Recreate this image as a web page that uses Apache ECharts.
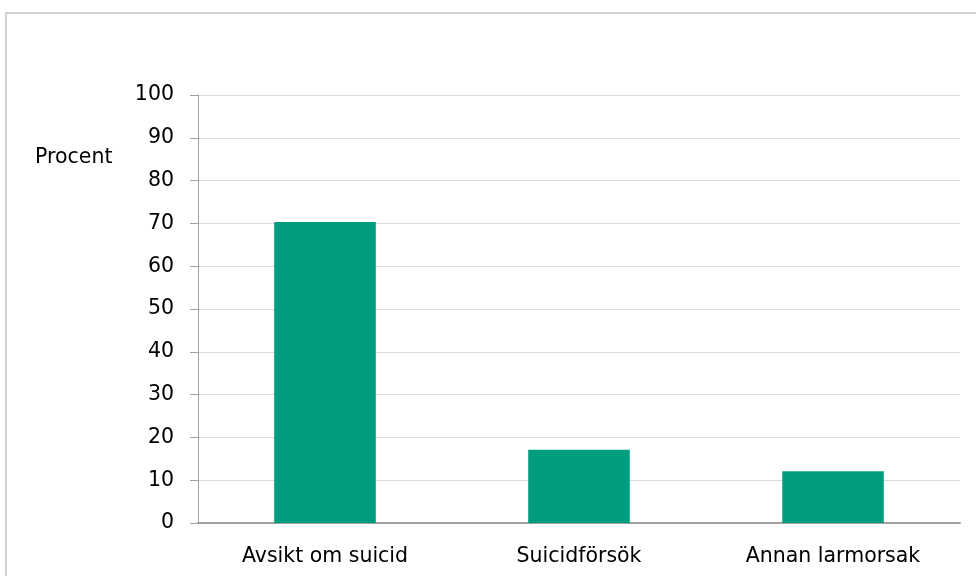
<!DOCTYPE html>
<html>
<head>
<meta charset="utf-8">
<script src="https://cdn.jsdelivr.net/npm/echarts@6/dist/echarts.min.js"></script>
<style>
  html, body { margin: 0; padding: 0; background: #fff; }
  #chart { width: 976px; height: 576px; }
</style>
</head>
<body>
<div id="chart"></div>
<script>
// Larmorsak, andel i procent
const categories = ['Avsikt om suicid', 'Suicidförsök', 'Annan larmorsak'];
const values = [70.3, 17.1, 12.1];
const yTicks = { min: 0, max: 100, interval: 10 };
const yTitle = 'Procent';

const FONT = 'DejaVu Sans';
const SIZE = 20.5;

const chart = echarts.init(document.getElementById('chart'), null, { renderer: 'canvas' });

chart.setOption({
  animation: false,
  backgroundColor: '#ffffff',
  textStyle: { fontFamily: FONT },
  grid: { left: 198, right: 16, top: 95, bottom: 53 },
  graphic: [
    {
      type: 'rect',
      shape: { x: 6, y: 13, width: 1000, height: 600 },
      style: { fill: 'none', stroke: '#d0d0d0', lineWidth: 2 },
      silent: true,
      z: -10
    },
    {
      type: 'text',
      left: 35,
      top: 147,
      style: { text: yTitle, fill: '#000', font: SIZE + 'px "' + FONT + '"' }
    }
  ],
  xAxis: {
    type: 'category',
    data: categories,
    axisLine: { show: true, lineStyle: { color: '#a0a0a0', width: 2 } },
    axisTick: { show: false },
    axisLabel: { color: '#000', fontSize: SIZE, fontFamily: FONT, margin: 23 },
    splitLine: { show: false }
  },
  yAxis: {
    type: 'value',
    min: yTicks.min,
    max: yTicks.max,
    interval: yTicks.interval,
    axisLine: { show: true, lineStyle: { color: '#a0a0a0', width: 1 } },
    axisTick: { show: true, length: 8, lineStyle: { color: '#a0a0a0' } },
    axisLabel: { color: '#000', fontSize: SIZE, fontFamily: FONT, margin: 24 },
    splitLine: { show: true, lineStyle: { color: '#dcdcdc', width: 1 } }
  },
  series: [
    {
      type: 'bar',
      data: values,
      barWidth: '40%',
      itemStyle: { color: '#009e7e' }
    }
  ]
});
</script>
</body>
</html>
